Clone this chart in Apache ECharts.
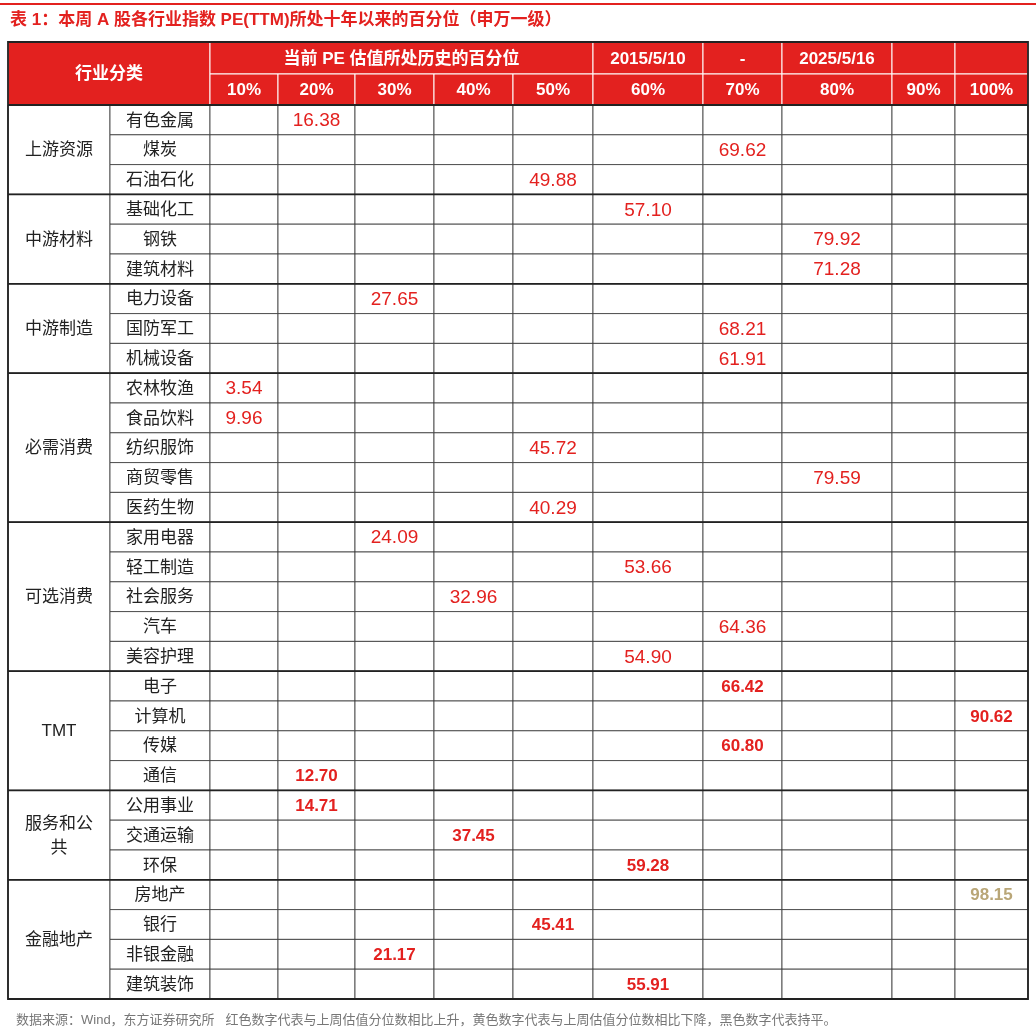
<!DOCTYPE html>
<html><head><meta charset="utf-8">
<script src="https://cdn.jsdelivr.net/npm/echarts@6/dist/echarts.min.js"></script>
<style>html,body{margin:0;padding:0;background:#fff}#main{width:1036px;height:1035px}</style>
</head><body><div id="main"></div>
<script>
var groups = ['上游资源', '中游材料', '中游制造', '必需消费', '可选消费', 'TMT', '服务和公\n共', '金融地产'];
var groupSizes = [3, 3, 3, 5, 5, 4, 3, 4];
var industries = ['有色金属', '煤炭', '石油石化', '基础化工', '钢铁', '建筑材料', '电力设备', '国防军工', '机械设备',
  '农林牧渔', '食品饮料', '纺织服饰', '商贸零售', '医药生物', '家用电器', '轻工制造', '社会服务', '汽车', '美容护理',
  '电子', '计算机', '传媒', '通信', '公用事业', '交通运输', '环保', '房地产', '银行', '非银金融', '建筑装饰'];
var pctValues = [16.38, 69.62, 49.88, 57.10, 79.92, 71.28, 27.65, 68.21, 61.91,
  3.54, 9.96, 45.72, 79.59, 40.29, 24.09, 53.66, 32.96, 64.36, 54.90,
  66.42, 90.62, 60.80, 12.70, 14.71, 37.45, 59.28, 98.15, 45.41, 21.17, 55.91];
// r = 上升, y = 下降
var changeKind = ['r','r','r','r','r','r','r','r','r','r','r','r','r','r','r','r','r','r','r',
  'r','r','r','r','r','r','r','y','r','r','r'];
var boldRows = 19; // rows from this index are bold
var pctLabels = ['10%', '20%', '30%', '40%', '50%', '60%', '70%', '80%', '90%', '100%'];

// layout
var colEdges = [8, 110, 210, 278, 355, 434, 513, 593, 703, 782, 892, 955, 1028];
var head0 = 42, head1 = 74, bodyTop = 105, rowH = 29.8;
var RED = '#e3211f';
var FONT = '"Liberation Sans", "Noto Sans CJK SC"';

var chart = echarts.init(document.getElementById('main'));
var cells = [];
function cell(x0, y0, x1, y1, text, kind) { cells.push([x0, y0, x1, y1, text, kind]); }

// header
cell(colEdges[0], head0, colEdges[2], bodyTop, '行业分类', 'head');
cell(colEdges[2], head0, colEdges[7], head1, '当前 PE 估值所处历史的百分位', 'head');
cell(colEdges[7], head0, colEdges[8], head1, '2015/5/10', 'head');
cell(colEdges[8], head0, colEdges[9], head1, '-', 'head');
cell(colEdges[9], head0, colEdges[10], head1, '2025/5/16', 'head');
cell(colEdges[10], head0, colEdges[11], head1, '', 'head');
cell(colEdges[11], head0, colEdges[12], head1, '', 'head');
pctLabels.forEach(function (p, i) { cell(colEdges[i + 2], head1, colEdges[i + 3], bodyTop, p, 'head'); });

// body
var r = 0;
groups.forEach(function (g, gi) {
  var y0 = bodyTop + r * rowH, n = groupSizes[gi];
  cell(colEdges[0], y0, colEdges[1], y0 + n * rowH, g, 'group');
  for (var k = 0; k < n; k++, r++) {
    var ry = bodyTop + r * rowH;
    cell(colEdges[1], ry, colEdges[2], ry + rowH, industries[r], 'name');
    var c = Math.min(9, Math.floor(pctValues[r] / 10));
    for (var j = 0; j < 10; j++) {
      var txt = j === c ? pctValues[r].toFixed(2) : '';
      var kind = changeKind[r] === 'y' ? 'valy' : (r >= boldRows ? 'valb' : 'val');
      cell(colEdges[j + 2], ry, colEdges[j + 3], ry + rowH, txt, kind);
    }
  }
});
var groupLines = [];
r = 0;
groupSizes.forEach(function (n) { r += n; groupLines.push([bodyTop + r * rowH]); });
groupLines.unshift([bodyTop]);

option = {
  animation: false,
  grid: { left: 0, right: 0, top: 0, bottom: 0 },
  xAxis: { type: 'value', min: 0, max: 1036, show: false },
  yAxis: { type: 'value', min: 0, max: 1035, inverse: true, show: false },
  graphic: [
    { type: 'rect', shape: { x: 0, y: 3, width: 1036, height: 2 }, style: { fill: RED } },
    { type: 'text', left: 10, top: 12, style: { text: '表 1：本周 A 股各行业指数 PE(TTM)所处十年以来的百分位（申万一级）',
      fill: RED, font: 'bold 17px ' + FONT } },
    { type: 'text', left: 16, top: 1014, style: { text: '数据来源：Wind，东方证券研究所   红色数字代表与上周估值分位数相比上升，黄色数字代表与上周估值分位数相比下降，黑色数字代表持平。',
      fill: '#777', font: '13px ' + FONT } }
  ],
  series: [{
    type: 'custom',
    data: cells,
    renderItem: function (params, api) {
      var p0 = api.coord([api.value(0), api.value(1)]);
      var p1 = api.coord([api.value(2), api.value(3)]);
      var d = cells[params.dataIndex];
      var kind = d[5];
      var head = kind === 'head';
      var fill = head ? RED : '#fff';
      var color = head ? '#fff' : (kind === 'name' || kind === 'group') ? '#222' : kind === 'valy' ? '#b9a677' : RED;
      var weight = (head || kind === 'valb' || kind === 'valy') ? 'bold' : 'normal';
      var size = head ? 17 : (kind === 'name' || kind === 'group') ? 17 : (weight === 'bold' ? 17 : 19);
      return {
        type: 'group',
        children: [
          { type: 'rect', shape: { x: p0[0], y: p0[1], width: p1[0] - p0[0], height: p1[1] - p0[1] },
            style: { fill: fill, stroke: head ? '#fff' : '#333', lineWidth: head ? 1 : 0.8 } },
          { type: 'text', style: { text: d[4], x: (p0[0] + p1[0]) / 2, y: (p0[1] + p1[1]) / 2 + 1,
            align: 'center', verticalAlign: 'middle', fill: color, lineHeight: 24,
            font: weight + ' ' + size + 'px ' + FONT } }
        ]
      };
    }
  }, {
    type: 'custom',
    data: groupLines,
    renderItem: function (params, api) {
      var a = api.coord([colEdges[0], api.value(0)]);
      var b = api.coord([colEdges[12], api.value(0)]);
      return { type: 'line', shape: { x1: a[0], y1: a[1], x2: b[0], y2: b[1] }, style: { stroke: '#222', lineWidth: 1.8 } };
    }
  }, {
    type: 'custom',
    data: [[0]],
    renderItem: function (params, api) {
      var a = api.coord([colEdges[0], head0]);
      var b = api.coord([colEdges[12], bodyTop + 30 * rowH]);
      return { type: 'rect', shape: { x: a[0], y: a[1], width: b[0] - a[0], height: b[1] - a[1] },
        style: { fill: 'none', stroke: '#222', lineWidth: 1.8 } };
    }
  }]
};
chart.setOption(option);
</script></body></html>
